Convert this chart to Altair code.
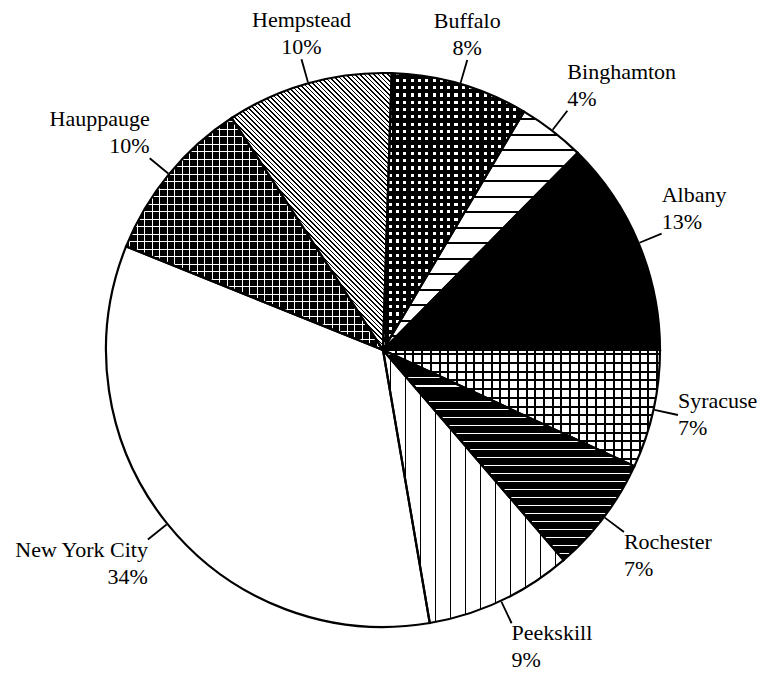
import math
import altair as alt
import pandas as pd

# ---- data (clockwise from 3 o'clock) ----
cities = ["Syracuse", "Rochester", "Peekskill", "New York City", "Hauppauge",
          "Hempstead", "Buffalo", "Binghamton", "Albany"]
shares = [6.9, 6.8, 8.6, 33.8, 9.7, 9.7, 8.0, 3.9, 12.6]
pct_labels = ["7%", "7%", "9%", "34%", "10%", "10%", "8%", "4%", "13%"]

df = pd.DataFrame({
    "city": cities,
    "value": shares,
    "pct": pct_labels,
    "idx": list(range(len(cities))),
})

CX, CY, R = 375, 342, 277
TOTAL = float(sum(shares))
START = math.pi / 2
theta_scale = alt.Scale(domain=[0, TOTAL], range=[START, START + 2 * math.pi])
FS, LH = 22, 27


# ---- pattern helpers (fill gradients sized to each slice's bounding box) ----
def slice_bbox(i):
    c0 = sum(shares[:i])
    a0 = START + 2 * math.pi * c0 / TOTAL
    a1 = START + 2 * math.pi * (c0 + shares[i]) / TOTAL
    pts = [(0.0, 0.0), (R * math.sin(a0), -R * math.cos(a0)),
           (R * math.sin(a1), -R * math.cos(a1))]
    for k in range(-4, 16):
        ang = k * math.pi / 2
        if a0 < ang < a1:
            pts.append((R * math.sin(ang), -R * math.cos(ang)))
    xs = [p[0] for p in pts]
    ys = [p[1] for p in pts]
    return max(xs) - min(xs), max(ys) - min(ys)


def stripes(city, normal_deg, period, lw, line, bg):
    i = cities.index(city)
    W, H = slice_bbox(i)
    th = math.radians(normal_deg)
    nx, ny = math.cos(th), math.sin(th)
    if abs(nx) < 1e-9:
        nx = 0.0
    if abs(ny) < 1e-9:
        ny = 0.0
    S = abs(nx) * W + abs(ny) * H
    c = S / (nx * nx * W * W + ny * ny * H * H)
    dx, dy = c * nx * W, c * ny * H
    x1 = 0.0 if nx >= 0 else 1.0
    y1 = 0.0 if ny >= 0 else 1.0
    stops = [{"offset": 0, "color": bg}]
    k = 0
    while True:
        a = (k * period + period / 2 - lw / 2) / S
        if a >= 1:
            break
        b = min(a + lw / S, 1.0)
        a = round(a, 6)
        b = round(b, 6)
        stops += [{"offset": a, "color": bg}, {"offset": a, "color": line},
                  {"offset": b, "color": line}, {"offset": b, "color": bg}]
        k += 1
    stops.append({"offset": 1, "color": bg})
    return {"gradient": "linear", "x1": x1, "y1": y1,
            "x2": round(x1 + dx, 6), "y2": round(y1 + dy, 6), "stops": stops}


CLEAR = "rgba(255,255,255,0)"
patterns = [
    ("Peekskill", stripes("Peekskill", 0, 15, 1.7, "black", "white")),
    ("Binghamton", stripes("Binghamton", 90, 15.5, 1.8, "black", "white")),
    ("Hempstead", stripes("Hempstead", -45, 3.3, 1.3, "black", "white")),
    ("Buffalo", stripes("Buffalo", 90, 7.3, 4.2, "black", "white")),
    ("Buffalo", stripes("Buffalo", 0, 7.3, 4.2, "black", CLEAR)),
    ("Syracuse", stripes("Syracuse", 90, 8.7, 2.0, "black", "white")),
    ("Syracuse", stripes("Syracuse", 0, 8.7, 2.0, "black", CLEAR)),
    ("Rochester", stripes("Rochester", 90, 8.0, 1.0, "white", "black")),
    ("Hauppauge", stripes("Hauppauge", 90, 7.5, 1.0, "white", "black")),
    ("Hauppauge", stripes("Hauppauge", 0, 7.5, 1.0, "white", CLEAR)),
]


def arc_layer(**mark_kw):
    return alt.Chart(df).mark_arc(radius=R, **mark_kw).encode(
        theta=alt.Theta("value:Q", stack=True, scale=theta_scale),
        order=alt.Order("idx:Q"),
        x=alt.value(CX),
        y=alt.value(CY),
    )


base = arc_layer().encode(
    fill=alt.condition("datum.city === 'Albany'", alt.value("black"), alt.value("white"))
)

pattern_layers = [
    arc_layer().encode(
        fill=alt.condition(f"datum.city === '{city}'", alt.value(grad), alt.value("transparent"))
    )
    for city, grad in patterns
]

outline = arc_layer(fill="transparent", stroke="black", strokeWidth=2.2)


def label_base():
    return (
        alt.Chart(df)
        .transform_joinaggregate(total="sum(value)")
        .transform_window(cum="sum(value)", sort=[alt.SortField("idx")], frame=[None, 0])
        .transform_calculate(
            mid="datum.cum - datum.value / 2",
            ang="PI / 2 + 2 * PI * (datum.cum - datum.value / 2) / datum.total",
            lines="[datum.city, datum.pct]",
        )
        .transform_calculate(sx="sin(datum.ang)", sy="-cos(datum.ang)",
                             t0="datum.mid - 0.05", t1="datum.mid + 0.05")
    )


ticks = label_base().mark_arc(innerRadius=278, radius=302, fill="black").encode(
    theta=alt.Theta("t0:Q", stack=False, scale=theta_scale),
    theta2="t1:Q",
    x=alt.value(CX),
    y=alt.value(CY),
)

labels = label_base().mark_text(
    radius=302,
    font="Liberation Serif",
    fontSize=FS,
    lineHeight=LH,
    color="black",
    align=alt.ExprRef(expr="datum.sx > 0.35 ? 'left' : (datum.sx < -0.35 ? 'right' : 'center')"),
    baseline=alt.ExprRef(expr="datum.sy > 0.3 ? 'top' : (datum.sy < -0.3 ? 'bottom' : 'middle')"),
    dy=alt.ExprRef(expr=f"datum.sy > 0.3 ? 0 : (datum.sy < -0.3 ? -{LH} : -{LH / 2})"),
).encode(
    theta=alt.Theta("mid:Q", stack=False, scale=theta_scale),
    x=alt.value(CX),
    y=alt.value(CY),
    text="lines:N",
)

chart = (
    alt.layer(base, *pattern_layers, outline, ticks, labels)
    .properties(width=750, height=669, padding=0,
                autosize=alt.AutoSizeParams(type="none"))
    .configure_view(stroke=None)
)

chart.save("out.html", embed_options={"renderer": "svg", "actions": False})
